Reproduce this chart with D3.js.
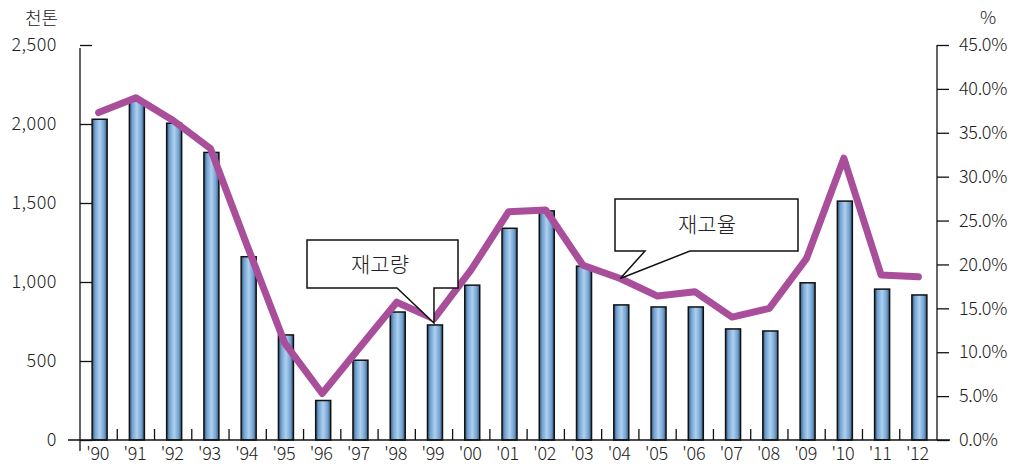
<!DOCTYPE html>
<html><head><meta charset="utf-8">
<script src="https://cdn.jsdelivr.net/npm/d3@7"></script>
<style>
html,body{margin:0;padding:0;background:#fff;}
svg{display:block;}
text{font-family:"Noto Sans CJK KR","Noto Sans",sans-serif;fill:#222;}
</style></head>
<body>
<svg id="c" width="1022" height="467"></svg>
<script>
const years = ["'90","'91","'92","'93","'94","'95","'96","'97","'98","'99","'00","'01","'02","'03","'04","'05","'06","'07","'08","'09","'10","'11","'12"];
const stock = [2030,2145,2005,1820,1160,665,250,505,810,728,980,1340,1450,1100,855,842,842,703,690,995,1512,955,918];
const ratio = [37.3,39.0,36.4,33.2,22.0,11.0,5.3,10.5,15.7,13.8,19.4,26.0,26.2,19.9,18.4,16.4,16.9,14.0,15.0,20.7,32.1,18.8,18.6];
const leftTicks = [0,500,1000,1500,2000,2500];
const rightTicks = [0,5,10,15,20,25,30,35,40,45];

const svg = d3.select("#c");
const x0 = 80, x1 = 937, yB = 440, yT = 45;

const x = d3.scaleBand().domain(years).range([x0, x1]).paddingInner(0).paddingOuter(0);
const yL = d3.scaleLinear().domain([0,2500]).range([yB, yT]);
const yR = d3.scaleLinear().domain([0,45]).range([yB, yT]);

const defs = svg.append("defs");
const g = defs.append("linearGradient").attr("id","barg").attr("x1","0%").attr("x2","100%").attr("y1","0%").attr("y2","0%");
[[0,"#2f5478"],[0.2,"#74a2d0"],[0.5,"#aed0f0"],[0.8,"#74a2d0"],[1,"#2f5478"]].forEach(s=>g.append("stop").attr("offset",s[0]).attr("stop-color",s[1]));

const bw = 15;
svg.append("g").selectAll("rect").data(stock).join("rect")
  .attr("x",(d,i)=>x(years[i]) + x.bandwidth()/2 - bw/2 + 1)
  .attr("y",d=>yL(d))
  .attr("width",bw)
  .attr("height",d=>yB - yL(d))
  .attr("fill","url(#barg)")
  .attr("stroke","#111").attr("stroke-width",1.5);

const axL = d3.axisLeft(yL).tickValues(leftTicks).tickFormat(d3.format(",")).tickSizeInner(-12).tickSizeOuter(0).tickPadding(23);
const gL = svg.append("g").attr("transform",`translate(${x0},0)`).call(axL);
gL.select(".domain").remove();
gL.selectAll(".tick line").attr("stroke","#111").attr("stroke-width",1.3);
gL.selectAll("text").attr("font-size",18).attr("letter-spacing","0.5px").attr("fill","#222").attr("font-family","'Noto Sans CJK KR',sans-serif").attr("font-weight",300);
svg.append("line").attr("x1",x0).attr("x2",x0).attr("y1",yT+3).attr("y2",yB+11).attr("stroke","#111").attr("stroke-width",1.3);

const axR = d3.axisRight(yR).tickValues(rightTicks).tickFormat(d=>d3.format(".1f")(d)+"%").tickSizeInner(12).tickSizeOuter(0).tickPadding(10);
const gR = svg.append("g").attr("transform",`translate(${x1},0)`).call(axR);
gR.select(".domain").remove();
gR.selectAll(".tick line").attr("stroke","#111").attr("stroke-width",1.3);
gR.selectAll("text").attr("font-size",18).attr("letter-spacing","-0.3px").attr("fill","#222").attr("font-family","'Noto Sans CJK KR',sans-serif").attr("font-weight",300);
svg.append("line").attr("x1",x1).attr("x2",x1).attr("y1",yT).attr("y2",yB).attr("stroke","#111").attr("stroke-width",1.3);

svg.append("line").attr("x1",68).attr("x2",950).attr("y1",yB).attr("y2",yB).attr("stroke","#111").attr("stroke-width",1.3);
svg.append("g").selectAll("line").data(years.slice(1)).join("line")
  .attr("x1",d=>x(d)).attr("x2",d=>x(d)).attr("y1",yB).attr("y2",yB-11)
  .attr("stroke","#111").attr("stroke-width",1.3);
svg.append("g").selectAll("text").data(years).join("text")
  .attr("x",d=>x(d)+x.bandwidth()/2 - 1).attr("y",460)
  .attr("text-anchor","middle").attr("font-size",18).attr("font-weight",300).attr("letter-spacing","-0.3px")
  .text(d=>d);

const line = d3.line().x((d,i)=>x(years[i])+x.bandwidth()/2).y(d=>yR(d));
svg.append("path").datum(ratio).attr("d",line)
  .attr("fill","none").attr("stroke","#a94e9a").attr("stroke-width",7)
  .attr("stroke-linejoin","round").attr("stroke-linecap","round");

svg.append("text").attr("x",58).attr("y",25).attr("text-anchor","end").attr("font-size",18).attr("font-weight",300).text("천톤");
svg.append("text").attr("x",988).attr("y",24).attr("text-anchor","middle").attr("font-size",18).attr("font-weight",300).text("%");

function callout(pts, tx, ty, label){
  svg.append("path").attr("d", d3.line()(pts)+"Z")
    .attr("fill","#fff").attr("stroke","#111").attr("stroke-width",1.5).attr("stroke-linejoin","miter");
  svg.append("text").attr("x",tx).attr("y",ty).attr("text-anchor","middle").attr("font-size",21).attr("font-weight",300).text(label);
}
const i99 = years.indexOf("'99"), i04 = years.indexOf("'04");
const tip99 = [x(years[i99])+x.bandwidth()/2, yL(stock[i99])-2];
callout([[307,240],[458,240],[458,288],[tip99[0],288],[tip99[0],tip99[1]],[397,288],[307,288]], 380, 272, "재고량");
const tip04 = [x(years[i04])+x.bandwidth()/2, yR(ratio[i04])];
callout([[615,199],[798,199],[798,251],[690,251],[tip04[0],tip04[1]],[645,251],[615,251]], 707, 232, "재고율");
</script>
</body></html>
